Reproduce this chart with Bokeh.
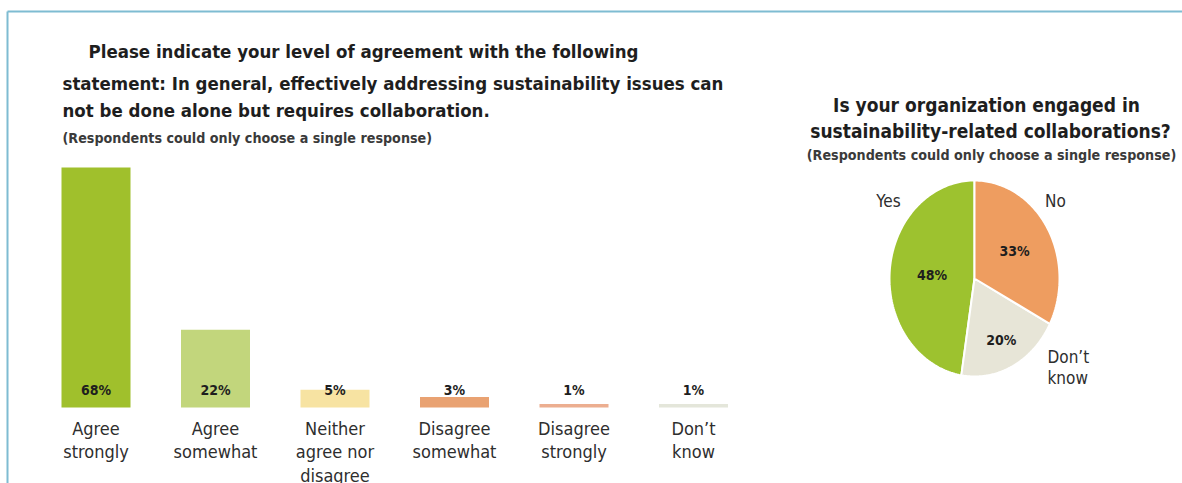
import numpy as np
from bokeh.plotting import figure
from bokeh.models import Range1d, ColumnDataSource
from bokeh.core.properties import value
from bokeh.embed import file_html
from bokeh.resources import INLINE

# ---------------- data ----------------
bar_categories = ["Agree\nstrongly", "Agree\nsomewhat", "Neither\nagree nor\ndisagree",
                  "Disagree\nsomewhat", "Disagree\nstrongly", "Don\u2019t\nknow"]
bar_values = [68, 22, 5, 3, 1, 1]
bar_labels = ["68%", "22%", "5%", "3%", "1%", "1%"]
bar_colors = ["#a0c02c", "#c2d67c", "#f7e3a2", "#e9a272", "#ecae90", "#e4e6da"]

pie_categories = ["Yes", "Don\u2019t know", "No"]   # counter-clockwise from 12 o'clock
pie_values = [48, 20, 33]
pie_labels = ["48%", "20%", "33%"]
pie_colors = ["#9dc22f", "#e7e5d7", "#ee9d60"]

left_title = ["Please indicate your level of agreement with the following",
              "statement: In general, effectively addressing sustainability issues can",
              "not be done alone but requires collaboration."]
left_subtitle = "(Respondents could only choose a single response)"
right_title = ["Is your organization engaged in",
               "sustainability-related collaborations?"]
right_subtitle = "(Respondents could only choose a single response)"

# ---------------- layout / style ----------------
W, H = 1182, 483
FONT = value("DejaVu Sans Condensed")
DARK = "#1e1e1e"
TXT = "#2e2e2e"

X0, DX, BW = 95.5, 119.5, 69       # bar centres / spacing / width (px)
BASE, PPP = 407.0, 240.0 / 68.0     # baseline (px) and px per percent

CX, CY, RX, RY = 974.0, 278.0, 85.0, 98.0

p = figure(width=W, height=H, output_backend="svg", toolbar_location=None,
           x_range=Range1d(0, W), y_range=Range1d(H, 0),
           min_border=0, outline_line_color=None, background_fill_color="white",
           border_fill_color="white")
p.axis.visible = False
p.grid.visible = False

p.extra_x_ranges = {"bars": Range1d(-X0 / DX, (W - X0) / DX)}
p.extra_y_ranges = {"pct": Range1d((BASE - H) / PPP, BASE / PPP)}

# frame lines (top and left)
p.segment(x0=[7, 7], y0=[11, 11], x1=[W, 7], y1=[11, H],
          line_color="#7ebcd2", line_width=2)

# ---------------- bar chart ----------------
idx = list(range(len(bar_values)))
bsrc = ColumnDataSource(dict(x=idx, top=bar_values, color=bar_colors, lab=bar_labels,
                             cat=bar_categories))
p.vbar(x="x", top="top", bottom=0, width=BW / DX, fill_color="color", line_color=None,
       source=bsrc, x_range_name="bars", y_range_name="pct")
p.text(x="x", y=18 / PPP, text="lab", source=bsrc, x_range_name="bars", y_range_name="pct",
       text_font=FONT, text_font_style="bold", text_font_size="14px", text_color=DARK,
       text_align="center", text_baseline="middle")
p.text(x="x", y=-10 / PPP, text="cat", source=bsrc, x_range_name="bars", y_range_name="pct",
       text_font=FONT, text_font_size="18px", text_color=TXT, text_line_height=1.12,
       text_align="center", text_baseline="top")

# titles
p.text(x=[88, 62, 62], y=[51, 83, 110], text=left_title, text_font=FONT,
       text_font_style="bold", text_font_size="18.5px", text_color=DARK,
       text_align="left", text_baseline="middle")
p.text(x=[62], y=[137], text=[left_subtitle], text_font=FONT, text_font_style="bold",
       text_font_size="14.2px", text_color="#3a3a3a", text_align="left", text_baseline="middle")
p.text(x=[986, 990], y=[104, 130], text=right_title, text_font=FONT,
       text_font_style="bold", text_font_size="19px", text_color=DARK,
       text_align="center", text_baseline="middle")
p.text(x=[991], y=[154], text=[right_subtitle], text_font=FONT, text_font_style="bold",
       text_font_size="14.2px", text_color="#3a3a3a", text_align="center", text_baseline="middle")

# ---------------- pie (elliptical) ----------------
vals = np.array(pie_values, dtype=float)
fr = vals / vals.sum()
starts = np.pi / 2 + 2 * np.pi * np.concatenate([[0], np.cumsum(fr)[:-1]])
ends = starts + 2 * np.pi * fr
xs, ys, lx, ly = [], [], [], []
label_frac = [0.5, 0.7, 0.55]
for s, e, f in zip(starts, ends, label_frac):
    a = np.linspace(s, e, 120)
    xs.append(list(np.concatenate([[CX], CX + RX * np.cos(a)])))
    ys.append(list(np.concatenate([[CY], CY - RY * np.sin(a)])))
    m = (s + e) / 2
    lx.append(CX + f * RX * np.cos(m))
    ly.append(CY - f * RY * np.sin(m))
p.patches(xs=xs, ys=ys, fill_color=pie_colors, line_color="white", line_width=2)
p.text(x=lx, y=ly, text=pie_labels, text_font=FONT, text_font_style="bold",
       text_font_size="14px", text_color=DARK, text_align="center", text_baseline="middle")
p.text(x=[888, 1055], y=[200, 200], text=["Yes", "No"], text_font=FONT,
       text_font_size="17px", text_color=TXT, text_align="center", text_baseline="middle")
p.text(x=[1047], y=[346], text=["Don\u2019t\nknow"], text_font=FONT,
       text_font_size="17px", text_color=TXT, text_align="left", text_baseline="top",
       text_line_height=1.05)

open("out.html", "w").write(file_html(p, INLINE))
